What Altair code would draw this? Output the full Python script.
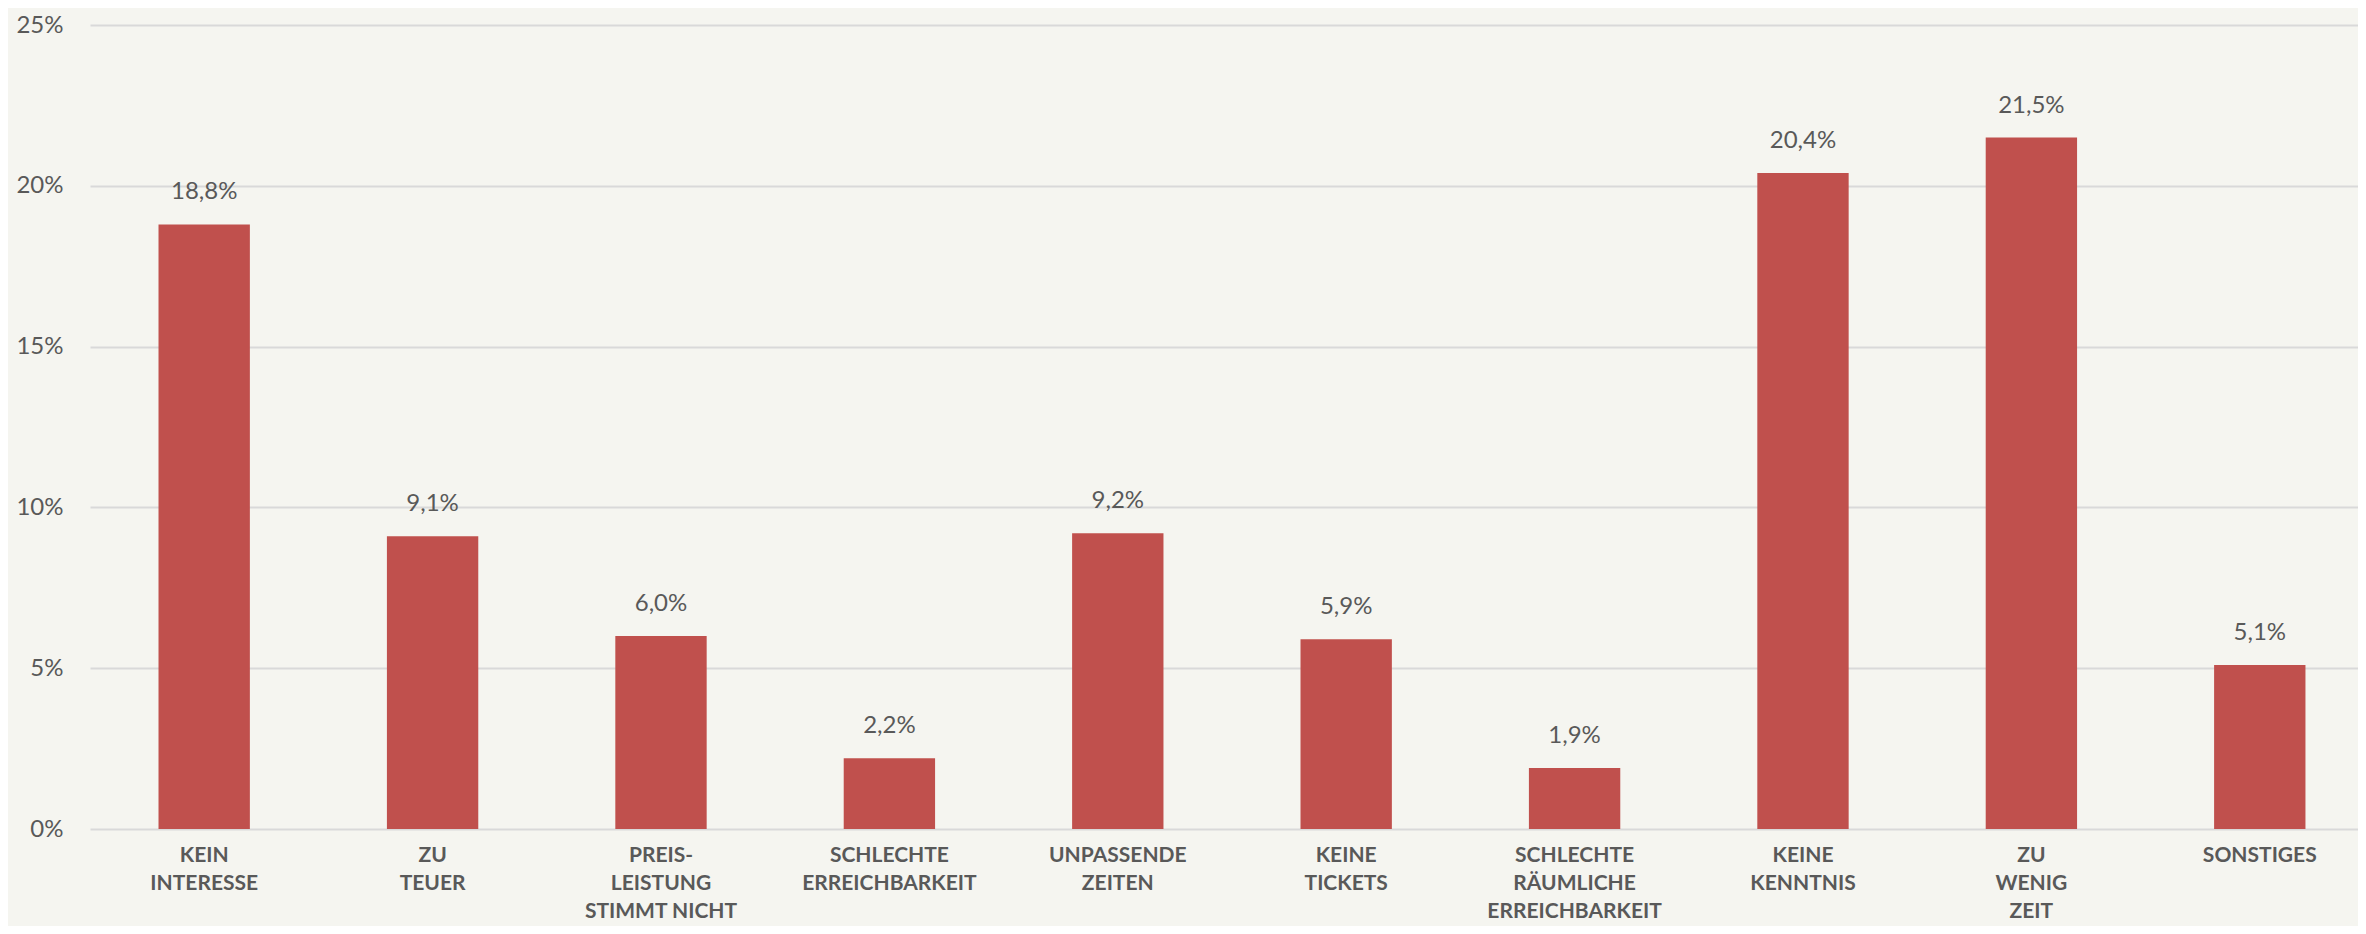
import altair as alt
import pandas as pd

categories = [
    "KEIN\nINTERESSE",
    "ZU\nTEUER",
    "PREIS-\nLEISTUNG\nSTIMMT NICHT",
    "SCHLECHTE\nERREICHBARKEIT",
    "UNPASSENDE\nZEITEN",
    "KEINE\nTICKETS",
    "SCHLECHTE\nRÄUMLICHE\nERREICHBARKEIT",
    "KEINE\nKENNTNIS",
    "ZU\nWENIG\nZEIT",
    "SONSTIGES",
]
values = [18.8, 9.1, 6.0, 2.2, 9.2, 5.9, 1.9, 20.4, 21.5, 5.1]
value_labels = ["18,8%", "9,1%", "6,0%", "2,2%", "9,2%", "5,9%", "1,9%", "20,4%", "21,5%", "5,1%"]
y_ticks = [0, 0.05, 0.10, 0.15, 0.20, 0.25]

df = pd.DataFrame({
    "cat": categories,
    "val": [v / 100 for v in values],
    "lbl": value_labels,
})

TEXT = "#595959"
xscale = alt.Scale(paddingInner=0.6, paddingOuter=0.265, align=0.566)
x_enc = alt.X(
    "cat:N", sort=categories, title=None, scale=xscale,
    axis=alt.Axis(
        labelExpr="split(datum.label, '\\n')",
        labelAngle=0, labelFont="Lato",
        labelFontWeight="bold", labelFontSize=21, labelColor=TEXT,
        labelLineHeight=28, labelBaseline="top", labelPadding=15,
        labelLimit=0,
        domain=False, ticks=False, grid=False,
    ),
)
y_enc = alt.Y(
    "val:Q", title=None,
    scale=alt.Scale(domain=[0, 0.25], nice=False),
    axis=alt.Axis(
        values=y_ticks, format=".0%", labelFont="Lato", labelFontSize=24,
        labelColor=TEXT, labelPadding=27, domain=False, ticks=False,
        grid=True, gridColor="#d9d9d9", gridWidth=2,
    ),
)

bars = alt.Chart(df).mark_bar(color="#C0504D").encode(x=x_enc, y=y_enc)
text = alt.Chart(df).mark_text(
    font="Lato", fontSize=24, color=TEXT, dy=-32, baseline="middle"
).encode(x=alt.X("cat:N", sort=categories, scale=xscale), y="val:Q", text="lbl:N")

chart = (bars + text).properties(
    width=2268, height=804,
    background="#F5F5F0",
    padding={"left": 82, "top": 17, "right": 0, "bottom": 97},
    autosize=alt.AutoSizeParams(type="none"),
).configure_view(stroke=None)

chart.save("out.html", embed_options={"renderer": "svg", "actions": False})
